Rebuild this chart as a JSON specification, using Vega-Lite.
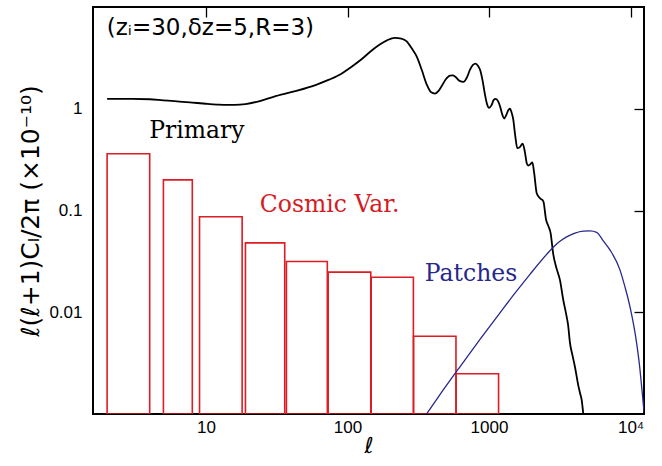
{
  "$schema": "https://vega.github.io/schema/vega-lite/v6.json",
  "width": 551,
  "height": 407,
  "autosize": {"type": "none"},
  "padding": {"left": 93, "top": 7, "right": 18, "bottom": 52},
  "background": "white",
  "config": {
    "view": {"stroke": "black", "strokeWidth": 2},
    "axis": {"grid": false, "domain": false, "ticks": true, "tickColor": "black", "tickWidth": 1.3, "labelColor": "black", "labelFont": "Liberation Sans", "labelFontSize": 17, "titleColor": "black", "labelOverlap": false, "labelFlush": false}
  },
  "datasets": {
    "bins": [
      {"l1": 2, "l2": 4, "v": 0.361},
      {"l1": 5, "l2": 8, "v": 0.2},
      {"l1": 9, "l2": 18, "v": 0.0867},
      {"l1": 19, "l2": 36, "v": 0.0481},
      {"l1": 37, "l2": 72, "v": 0.0315},
      {"l1": 73, "l2": 146, "v": 0.0248},
      {"l1": 147, "l2": 292, "v": 0.0221},
      {"l1": 293, "l2": 584, "v": 0.0058},
      {"l1": 585, "l2": 1168, "v": 0.00249}
    ],
    "primary": [
      {"l": 2, "v": 1.25}, {"l": 2.5, "v": 1.25}, {"l": 3, "v": 1.25}, {"l": 4, "v": 1.24}, {"l": 5, "v": 1.21},
      {"l": 6, "v": 1.19}, {"l": 8, "v": 1.15}, {"l": 10, "v": 1.12}, {"l": 12, "v": 1.10}, {"l": 14, "v": 1.09},
      {"l": 16, "v": 1.09}, {"l": 19, "v": 1.11}, {"l": 24, "v": 1.19}, {"l": 30, "v": 1.31}, {"l": 42, "v": 1.48},
      {"l": 60, "v": 1.72}, {"l": 74, "v": 1.93}, {"l": 90, "v": 2.2}, {"l": 104, "v": 2.52}, {"l": 125, "v": 3.05},
      {"l": 146, "v": 3.67}, {"l": 169, "v": 4.27}, {"l": 190, "v": 4.7}, {"l": 216, "v": 4.98}, {"l": 240, "v": 4.9},
      {"l": 262, "v": 4.6}, {"l": 285, "v": 3.9}, {"l": 308, "v": 3.28}, {"l": 335, "v": 2.4}, {"l": 363, "v": 1.73},
      {"l": 390, "v": 1.45}, {"l": 415, "v": 1.41}, {"l": 440, "v": 1.5}, {"l": 462, "v": 1.66}, {"l": 495, "v": 1.95},
      {"l": 530, "v": 2.12}, {"l": 555, "v": 2.13}, {"l": 575, "v": 2.08}, {"l": 620, "v": 1.88}, {"l": 658, "v": 1.84},
      {"l": 700, "v": 2.05}, {"l": 734, "v": 2.43}, {"l": 770, "v": 2.7}, {"l": 805, "v": 2.78}, {"l": 835, "v": 2.65},
      {"l": 863, "v": 2.43}, {"l": 900, "v": 1.9}, {"l": 936, "v": 1.38}, {"l": 970, "v": 1.1}, {"l": 1000, "v": 1.02},
      {"l": 1040, "v": 1.08}, {"l": 1080, "v": 1.22}, {"l": 1115, "v": 1.25}, {"l": 1160, "v": 1.18}, {"l": 1196, "v": 1.06},
      {"l": 1240, "v": 0.88}, {"l": 1277, "v": 0.8}, {"l": 1320, "v": 0.86}, {"l": 1370, "v": 0.97}, {"l": 1406, "v": 1.0},
      {"l": 1440, "v": 0.93}, {"l": 1484, "v": 0.78}, {"l": 1530, "v": 0.55}, {"l": 1585, "v": 0.41}, {"l": 1650, "v": 0.42},
      {"l": 1729, "v": 0.454}, {"l": 1790, "v": 0.38}, {"l": 1850, "v": 0.29}, {"l": 1896, "v": 0.277}, {"l": 1960, "v": 0.285},
      {"l": 2024, "v": 0.297}, {"l": 2080, "v": 0.24}, {"l": 2173, "v": 0.148}, {"l": 2293, "v": 0.132}, {"l": 2421, "v": 0.123},
      {"l": 2530, "v": 0.081}, {"l": 2630, "v": 0.07}, {"l": 2724, "v": 0.06}, {"l": 2845, "v": 0.037}, {"l": 3000, "v": 0.027},
      {"l": 3170, "v": 0.0208}, {"l": 3347, "v": 0.0132}, {"l": 3497, "v": 0.0098}, {"l": 3620, "v": 0.0075}, {"l": 3733, "v": 0.005},
      {"l": 3900, "v": 0.0037}, {"l": 4049, "v": 0.0029}, {"l": 4276, "v": 0.0019}, {"l": 4400, "v": 0.0016}, {"l": 4517, "v": 0.00137},
      {"l": 4637, "v": 0.001}
    ],
    "patches": [
      {"l": 362, "v": 0.001}, {"l": 450, "v": 0.00155}, {"l": 623, "v": 0.00291}, {"l": 863, "v": 0.0054}, {"l": 1195, "v": 0.00986},
      {"l": 1525, "v": 0.0154}, {"l": 1947, "v": 0.0236}, {"l": 2555, "v": 0.0371}, {"l": 2844, "v": 0.0436}, {"l": 3172, "v": 0.0498},
      {"l": 3537, "v": 0.0551}, {"l": 4049, "v": 0.06}, {"l": 4635, "v": 0.0627}, {"l": 5167, "v": 0.0631}, {"l": 5763, "v": 0.061},
      {"l": 6417, "v": 0.0503}, {"l": 7154, "v": 0.041}, {"l": 8419, "v": 0.0261}, {"l": 9134, "v": 0.01774}, {"l": 9908, "v": 0.01135},
      {"l": 11049, "v": 0.00495}, {"l": 11566, "v": 0.00303}, {"l": 11985, "v": 0.00185}, {"l": 12241, "v": 0.00137}, {"l": 12450, "v": 0.00105}
    ],
    "params": [
      {"l": 1.99, "v": 5.36, "label": "(zᵢ=30,δz=5,R=3)"}
    ],
    "labels": [
      {"l": 3.97, "v": 0.516, "label": "Primary"},
      {"l": 24.0, "v": 0.0977, "label": "Cosmic Var."},
      {"l": 352, "v": 0.0203, "label": "Patches"}
    ]
  },
  "resolve": {"axis": {"x": "independent", "y": "independent"}},
  "layer": [
    {
      "data": {"name": "bins"},
      "mark": {"type": "rect", "fillOpacity": 0, "stroke": "#dd1c24", "strokeWidth": 1.6, "clip": true},
      "encoding": {
        "x": {"field": "l1", "type": "quantitative", "scale": {"type": "log", "domain": [1.59, 12450], "nice": false},
          "axis": {"orient": "bottom", "values": [10, 100, 1000, 10000], "ticks": false, "labelPadding": 5,
            "labelExpr": "datum.value == 10 ? '10' : datum.value == 100 ? '100' : datum.value == 1000 ? '1000' : '10⁴'",
            "title": "ℓ", "titleFont": "DejaVu Sans", "titleFontSize": 22, "titleFontWeight": "normal", "titlePadding": 0}},
        "x2": {"field": "l2"},
        "y": {"field": "v", "type": "quantitative", "scale": {"type": "log", "domain": [0.001, 10], "nice": false},
          "axis": {"orient": "left", "values": [0.01, 0.1, 1], "ticks": false, "labelPadding": 11,
            "labelExpr": "datum.value == 1 ? '1' : datum.value == 0.1 ? '0.1' : '0.01'",
            "title": "ℓ(ℓ+1)Cₗ/2π  (×10⁻¹⁰)", "titleFont": "DejaVu Sans", "titleFontSize": 25, "titleFontWeight": "normal", "titlePadding": 5}},
        "y2": {"datum": 0.001}
      }
    },
    {
      "data": {"name": "primary"},
      "mark": {"type": "line", "color": "black", "strokeWidth": 1.8, "interpolate": "monotone", "clip": true},
      "encoding": {
        "x": {"field": "l", "type": "quantitative", "scale": {"type": "log", "domain": [1.59, 12450], "nice": false},
          "axis": {"orient": "top", "values": [10, 100, 1000, 10000], "tickSize": -10, "labels": false, "title": null}},
        "y": {"field": "v", "type": "quantitative", "scale": {"type": "log", "domain": [0.001, 10], "nice": false},
          "axis": {"orient": "right", "values": [0.01, 0.1, 1], "tickSize": -10, "labels": false, "title": null}}
      }
    },
    {
      "data": {"name": "patches"},
      "mark": {"type": "line", "color": "#28288c", "strokeWidth": 1.3, "interpolate": "monotone", "clip": true},
      "encoding": {
        "x": {"field": "l", "type": "quantitative", "scale": {"type": "log", "domain": [1.59, 12450], "nice": false}, "axis": null},
        "y": {"field": "v", "type": "quantitative", "scale": {"type": "log", "domain": [0.001, 10], "nice": false}, "axis": null}
      }
    },
    {
      "data": {"name": "params"},
      "mark": {"type": "text", "align": "left", "baseline": "alphabetic", "font": "DejaVu Sans", "fontSize": 23, "color": "black"},
      "encoding": {
        "x": {"field": "l", "type": "quantitative", "scale": {"type": "log", "domain": [1.59, 12450], "nice": false}, "axis": null},
        "y": {"field": "v", "type": "quantitative", "scale": {"type": "log", "domain": [0.001, 10], "nice": false}, "axis": null},
        "text": {"field": "label"}
      }
    },
    {
      "data": {"name": "labels"},
      "mark": {"type": "text", "align": "left", "baseline": "alphabetic", "font": "DejaVu Serif", "fontSize": 23.5},
      "encoding": {
        "x": {"field": "l", "type": "quantitative", "scale": {"type": "log", "domain": [1.59, 12450], "nice": false}, "axis": null},
        "y": {"field": "v", "type": "quantitative", "scale": {"type": "log", "domain": [0.001, 10], "nice": false}, "axis": null},
        "text": {"field": "label"},
        "color": {"field": "label", "type": "nominal", "scale": {"domain": ["Primary", "Cosmic Var.", "Patches"], "range": ["black", "#d41c24", "#28288c"]}, "legend": null}
      }
    }
  ]
}
